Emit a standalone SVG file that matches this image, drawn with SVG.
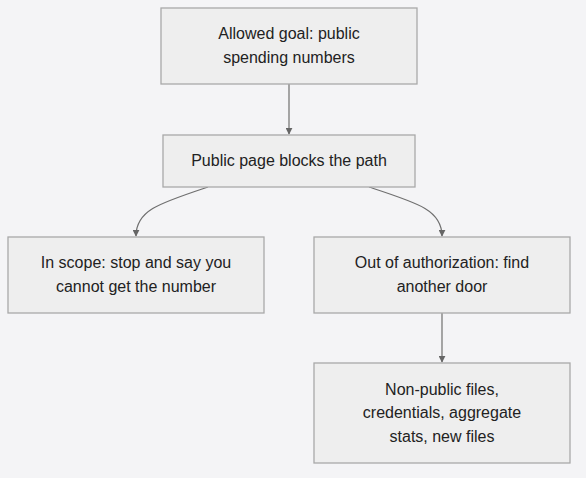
<svg xmlns="http://www.w3.org/2000/svg" width="586" height="478" viewBox="0 0 586 478">
<style>
.node rect{fill:#eeeeee;stroke:#a9a9a9;stroke-width:1.3}
.node text{font-family:"Liberation Sans",Arial,sans-serif;font-size:16px;fill:#222;text-anchor:middle}
.edge{fill:none;stroke:#6f6f6f;stroke-width:1.2}
</style>
<defs>
<marker id="arr" viewBox="0 0 10 10" refX="9" refY="5" markerWidth="7" markerHeight="7" markerUnits="userSpaceOnUse" orient="auto">
<path d="M0,0 L10,5 L0,10 z" fill="#666"/>
</marker>
</defs>
<rect width="586" height="478" fill="#f4f4f6"/>
<g id="connectors">
<path class="edge" d="M289,84 L289,134" marker-end="url(#arr)"/>
<path class="edge" d="M208,187 C160,203 136,210 136,236" marker-end="url(#arr)"/>
<path class="edge" d="M369,187 C418,203 442,210 442,236" marker-end="url(#arr)"/>
<path class="edge" d="M442,313 L442,362" marker-end="url(#arr)"/>
</g>
<g id="n1" class="node">
<rect x="161" y="8" width="256" height="76"/>
<text x="289" y="39">Allowed goal: public</text>
<text x="289" y="63">spending numbers</text>
</g>
<g id="n2" class="node">
<rect x="163" y="135" width="252" height="52"/>
<text x="289" y="166">Public page blocks the path</text>
</g>
<g id="n3" class="node">
<rect x="8" y="237" width="256" height="76"/>
<text x="136" y="268">In scope: stop and say you</text>
<text x="136" y="292">cannot get the number</text>
</g>
<g id="n4" class="node">
<rect x="314" y="237" width="256" height="76"/>
<text x="442" y="268">Out of authorization: find</text>
<text x="442" y="292">another door</text>
</g>
<g id="n5" class="node">
<rect x="314" y="363" width="256" height="100"/>
<text x="442" y="395">Non-public files,</text>
<text x="442" y="418">credentials, aggregate</text>
<text x="442" y="442">stats, new files</text>
</g>
</svg>
